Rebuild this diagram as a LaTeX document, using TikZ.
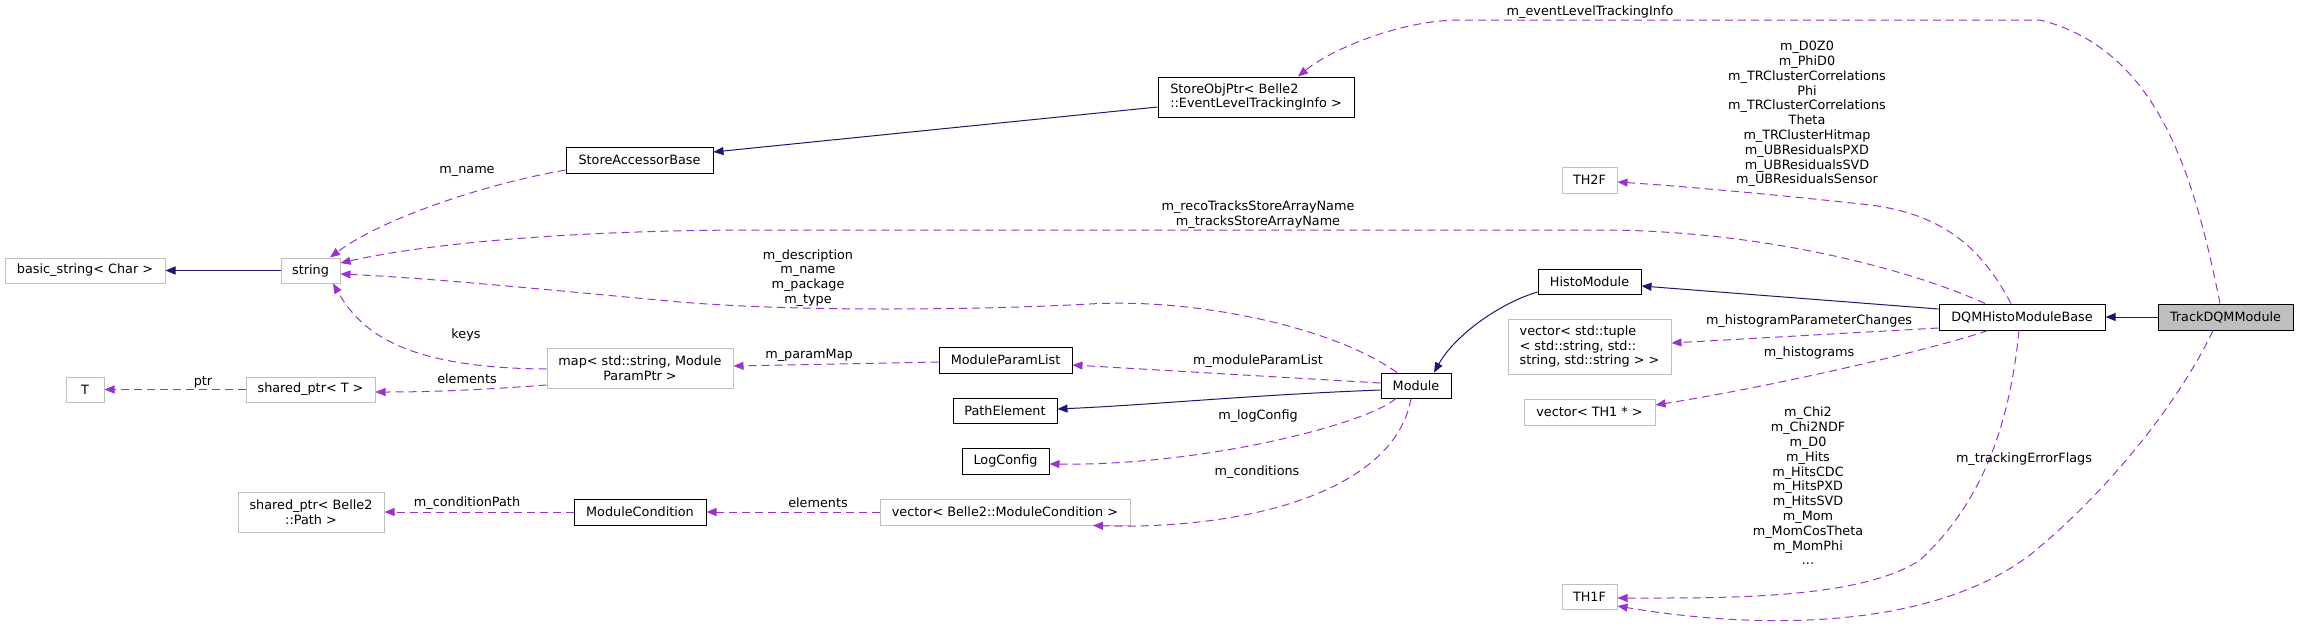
\documentclass[tikz,border=0pt]{standalone}
\usepackage{fontspec}
\setmainfont{DejaVu Sans}
\usetikzlibrary{arrows.meta,calc}
\definecolor{navyc}{HTML}{191970}
\definecolor{orch}{HTML}{9A32CD}
\definecolor{grayb}{HTML}{BFBFBF}
\begin{document}
\begin{tikzpicture}[x=1pt,y=-1pt,
  every node/.style={font=\fontsize{12.8}{14.8}\selectfont, inner sep=0pt},
  cls/.style={draw=black, line width=1pt, fill=white},
  ext/.style={draw=grayb, line width=1pt, fill=white},
  inh/.style={draw=navyc, line width=1pt, -{Triangle[length=10pt,width=8pt]}},
  rel/.style={draw=orch, line width=1pt, dash pattern=on 8pt off 5pt, -{Triangle[length=10pt,width=8pt]}},
  lbl/.style={align=center}
]
\useasboundingbox (0,0) rectangle (2299,629);
% nodes
\node[ext, minimum width=160pt, minimum height=25pt] (basic) at (85,270.5) {basic\_string< Char >};
\node[ext, minimum width=59pt, minimum height=25pt] (string) at (310.5,270.5) {string};
\node[ext, minimum width=38pt, minimum height=25pt] (T) at (85,389.5) {T};
\node[ext, minimum width=129pt, minimum height=25pt] (sharedT) at (310.5,389.5) {shared\_ptr< T >};
\node[ext, minimum width=186pt, minimum height=40pt, align=center] (map) at (640,368) {map< std::string, Module\\ParamPtr >};
\node[ext, minimum width=146pt, minimum height=40pt, align=center] (spath) at (311,512) {shared\_ptr< Belle2\\::Path >};
\node[cls, minimum width=132pt, minimum height=26pt] (mc) at (640,512) {ModuleCondition};
\node[ext, minimum width=250pt, minimum height=26pt] (vecmc) at (1005,512) {vector< Belle2::ModuleCondition >};
\node[cls, minimum width=87pt, minimum height=26pt] (lc) at (1005.5,461) {LogConfig};
\node[cls, minimum width=104pt, minimum height=25pt] (pe) at (1005,410.5) {PathElement};
\node[cls, minimum width=133pt, minimum height=26pt] (mpl) at (1005.5,360) {ModuleParamList};
\node[cls, minimum width=147pt, minimum height=26pt] (sab) at (639.5,160) {StoreAccessorBase};
\node[cls, minimum width=196pt, minimum height=40pt, align=left] (sop) at (1256,97) {StoreObjPtr< Belle2\\::EventLevelTrackingInfo >};
\node[cls, minimum width=70pt, minimum height=25pt] (mod) at (1416,385.5) {Module};
\node[cls, minimum width=103pt, minimum height=25pt] (hm) at (1589.5,281.5) {HistoModule};
\node[ext, minimum width=163pt, minimum height=55pt, align=left] (vtup) at (1589.5,346.5) {vector< std::tuple\\< std::string, std::\\string, std::string > >};
\node[ext, minimum width=131pt, minimum height=26pt] (vth) at (1589.5,412) {vector< TH1 * >};
\node[ext, minimum width=55pt, minimum height=25pt] (th1f) at (1589.5,596.5) {TH1F};
\node[ext, minimum width=55pt, minimum height=26pt] (th2f) at (1589.5,180) {TH2F};
\node[cls, minimum width=166pt, minimum height=26pt] (dqm) at (2022,317) {DQMHistoModuleBase};
\node[cls, fill=grayb, minimum width=135pt, minimum height=26pt] (tdqm) at (2225.5,317) {TrackDQMModule};
% inheritance edges
\draw[inh] (string.west) -- (basic.east);
\draw[inh] (sop.west |- 0,107) -- (sab.east |- 0,152);
\draw[inh] (mod.west |- 0,390) .. controls (1250,395) and (1150,405) .. (pe.east |- 0,409);
\draw[inh] (hm.west |- 0,292) .. controls (1500,303) and (1455,335) .. (mod.north -| 1434,0);
\draw[inh] (dqm.west |- 0,309) -- (hm.east |- 0,286);
\draw[inh] (tdqm.west) -- (dqm.east);
% usage edges
\draw[rel] (sab.west |- 0,170) .. controls (480,185) and (380,220) .. (string.north -| 330,0);
\node[lbl] (lname) at (467,171) {m\_name};
\draw[rel] (dqm.north -| 1985,0) .. controls (1900,265) and (1750,230) .. (1600,230) -- (760,230) .. controls (560,230) and (420,245) .. (string.east |- 0,263);
\node[lbl] (lreco) at (1258,215) {m\_recoTracksStoreArrayName\\m\_tracksStoreArrayName};
\draw[rel] (mod.north -| 1397,0) .. controls (1330,325) and (1190,298) .. (1090,304) .. controls (980,310) and (800,312) .. (680,302) .. controls (550,290) and (430,278) .. (string.east |- 0,274);
\node[lbl] (ldesc) at (808,278) {m\_description\\m\_name\\m\_package\\m\_type};
\draw[rel] (map.west |- 0,369) .. controls (400,368) and (360,330) .. (string.south -| 333,0);
\node[lbl] (lkeys) at (466,335) {keys};
\draw[rel] (map.west |- 0,385) .. controls (480,390) and (430,392) .. (sharedT.east |- 0,392);
\node[lbl] (lelem1) at (467,379) {elements};
\draw[rel] (sharedT.west) -- (T.east);
\node[lbl] (lptr) at (203,382) {ptr};
\draw[rel] (mpl.west |- 0,362) -- (map.east |- 0,366);
\node[lbl] (lpm) at (809,355) {m\_paramMap};
\draw[rel] (mod.west |- 0,383) -- (mpl.east |- 0,365);
\node[lbl] (lmpl) at (1258,361) {m\_moduleParamList};
\draw[rel] (mod.south -| 1396,0) .. controls (1365,425) and (1200,466) .. (lc.east |- 0,464);
\node[lbl] (llc) at (1258,416) {m\_logConfig};
\draw[rel] (mod.south -| 1411,0) .. controls (1395,490) and (1250,530) .. (vecmc.south -| 1093,0);
\node[lbl] (lcond) at (1257,472) {m\_conditions};
\draw[rel] (vecmc.west) -- (mc.east);
\node[lbl] (lelem2) at (818,503) {elements};
\draw[rel] (mc.west) -- (spath.east |- 0,512);
\node[lbl] (lcp) at (467,503) {m\_conditionPath};
\draw[rel] (dqm.west |- 0,328) -- (vtup.east |- 0,343);
\node[lbl] (lhpc) at (1809,321) {m\_histogramParameterChanges};
\draw[rel] (dqm.south -| 1988,0) .. controls (1930,350) and (1780,385) .. (vth.east |- 0,405);
\node[lbl] (lhist) at (1809,353) {m\_histograms};
\draw[rel] (dqm.south -| 2019,0) .. controls (2010,420) and (1985,500) .. (1920,560) .. controls (1860,600) and (1720,598) .. (th1f.east |- 0,598);
\node[lbl] (lth1) at (1808,486) {m\_Chi2\\m\_Chi2NDF\\m\_D0\\m\_Hits\\m\_HitsCDC\\m\_HitsPXD\\m\_HitsSVD\\m\_Mom\\m\_MomCosTheta\\m\_MomPhi\\...};
\draw[rel] (tdqm.south -| 2213,0) .. controls (2180,400) and (2110,490) .. (2030,555) .. controls (1930,630) and (1760,630) .. (th1f.east |- 0,606);
\node[lbl] (ltef) at (2024,459) {m\_trackingErrorFlags};
\draw[rel] (dqm.north -| 2011,0) .. controls (1985,255) and (1950,215) .. (1870,205) .. controls (1780,195) and (1680,186) .. (th2f.east |- 0,182);
\node[lbl] (lth2) at (1807,114) {m\_D0Z0\\m\_PhiD0\\m\_TRClusterCorrelations\\Phi\\m\_TRClusterCorrelations\\Theta\\m\_TRClusterHitmap\\m\_UBResidualsPXD\\m\_UBResidualsSVD\\m\_UBResidualsSensor};
\draw[rel] (tdqm.north -| 2220,0) .. controls (2195,180) and (2160,50) .. (2040,20) -- (1460,20) .. controls (1400,20) and (1330,50) .. (sop.north -| 1298,0);
\node[lbl] (leti) at (1590,12) {m\_eventLevelTrackingInfo};
\end{tikzpicture}
\end{document}
